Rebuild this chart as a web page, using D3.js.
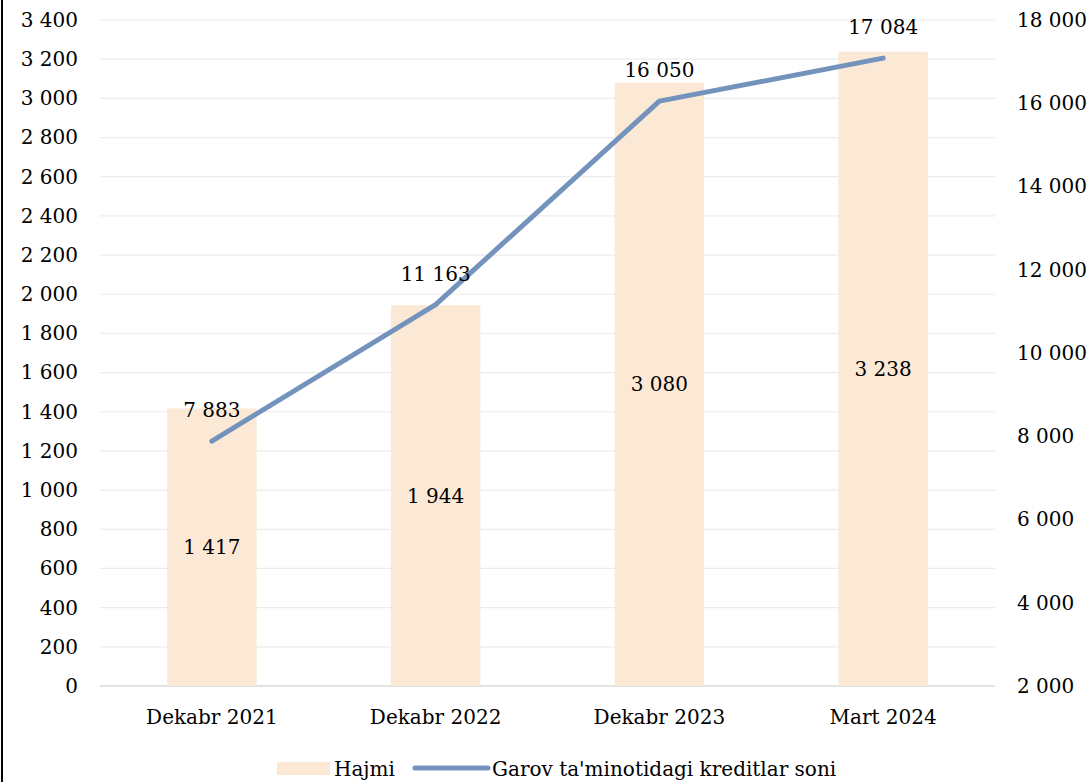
<!DOCTYPE html>
<html><head><meta charset="utf-8">
<script src="https://cdn.jsdelivr.net/npm/d3@7"></script>
<style>body{margin:0;background:#fff}svg{display:block}text{font-family:"DejaVu Serif",serif;fill:#000}</style>
</head><body>
<script>
const categories = ["Dekabr 2021","Dekabr 2022","Dekabr 2023","Mart 2024"];
const hajmi = [1417, 1944, 3080, 3238];
const kreditlar = [7883, 11163, 16050, 17084];
const leftTicks = d3.range(0, 3401, 200);
const rightTicks = d3.range(2000, 18001, 2000);
const seriesNames = ["Hajmi", "Garov ta'minotidagi kreditlar soni"];

const W = 1091, H = 782;
const fmt = v => d3.format(",")(v).replace(/,/g, " ");
const fs = 20;
const svg = d3.select("body").append("svg").attr("width", W).attr("height", H);

const x0 = 100, x1 = 995, yTop = 20, yBot = 686;
const x = d3.scaleBand().domain(categories).range([x0, x1]).paddingInner(0.6).paddingOuter(0.3);
const yL = d3.scaleLinear().domain([0, 3400]).range([yBot, yTop]);
const yR = d3.scaleLinear().domain([2000, 18000]).range([yBot, yTop]);

// frame left line
svg.append("line").attr("x1", 2).attr("x2", 2).attr("y1", 0).attr("y2", H).attr("stroke", "#000").attr("stroke-width", 2);

// gridlines
svg.append("g").selectAll("line").data(leftTicks).join("line")
  .attr("x1", x0).attr("x2", x1).attr("y1", d => yL(d)).attr("y2", d => yL(d))
  .attr("stroke", d => d === 0 ? "#d9d9d9" : "#ececec").attr("stroke-width", d => d === 0 ? 1.5 : 1.2);

// left axis
const gl = svg.append("g").attr("transform", `translate(${78},0)`)
  .call(d3.axisLeft(yL).tickValues(leftTicks).tickFormat(fmt).tickSize(0).tickPadding(0));
gl.select(".domain").remove();
gl.selectAll("text").attr("font-size", fs).attr("font-family", "DejaVu Serif");

// right axis
const gr = svg.append("g").attr("transform", `translate(${1017},0)`)
  .call(d3.axisRight(yR).tickValues(rightTicks).tickFormat(fmt).tickSize(0).tickPadding(0));
gr.select(".domain").remove();
gr.selectAll("text").attr("font-size", fs).attr("font-family", "DejaVu Serif");

// bars
svg.append("g").selectAll("rect").data(hajmi).join("rect")
  .attr("x", (d, i) => x(categories[i])).attr("width", x.bandwidth())
  .attr("y", d => yL(d)).attr("height", d => yBot - yL(d)).attr("fill", "#fbe9d6");

// bar labels
svg.append("g").selectAll("text").data(hajmi).join("text")
  .attr("x", (d, i) => x(categories[i]) + x.bandwidth() / 2)
  .attr("y", d => (yL(d) + yBot) / 2).attr("dy", "0.35em")
  .attr("text-anchor", "middle").attr("font-size", fs).text(fmt);

// line
const cx = i => x(categories[i]) + x.bandwidth() / 2;
svg.append("path").datum(kreditlar)
  .attr("d", d3.line().x((d, i) => cx(i)).y(d => yR(d)))
  .attr("fill", "none").attr("stroke", "#7393bc").attr("stroke-width", 5).attr("stroke-linecap", "round").attr("stroke-linejoin", "round");

svg.append("g").selectAll("text").data(kreditlar).join("text")
  .attr("x", (d, i) => cx(i)).attr("y", d => yR(d) - 31).attr("dy", "0.35em")
  .attr("text-anchor", "middle").attr("font-size", fs).text(fmt);

// x axis labels
svg.append("g").selectAll("text").data(categories).join("text")
  .attr("x", d => x(d) + x.bandwidth() / 2).attr("y", 717).attr("dy", "0.35em")
  .attr("text-anchor", "middle").attr("font-size", fs).text(d => d);

// legend
const lg = svg.append("g");
lg.append("rect").attr("x", 277).attr("y", 762).attr("width", 53).attr("height", 13).attr("fill", "#fbe9d6");
lg.append("text").attr("x", 334).attr("y", 769).attr("dy", "0.35em").attr("font-size", fs).text(seriesNames[0]);
lg.append("line").attr("x1", 415).attr("x2", 488).attr("y1", 768).attr("y2", 768).attr("stroke", "#7393bc").attr("stroke-width", 5).attr("stroke-linecap", "round");
lg.append("text").attr("x", 492).attr("y", 769).attr("dy", "0.35em").attr("font-size", fs).text(seriesNames[1]);
</script>
</body></html>
